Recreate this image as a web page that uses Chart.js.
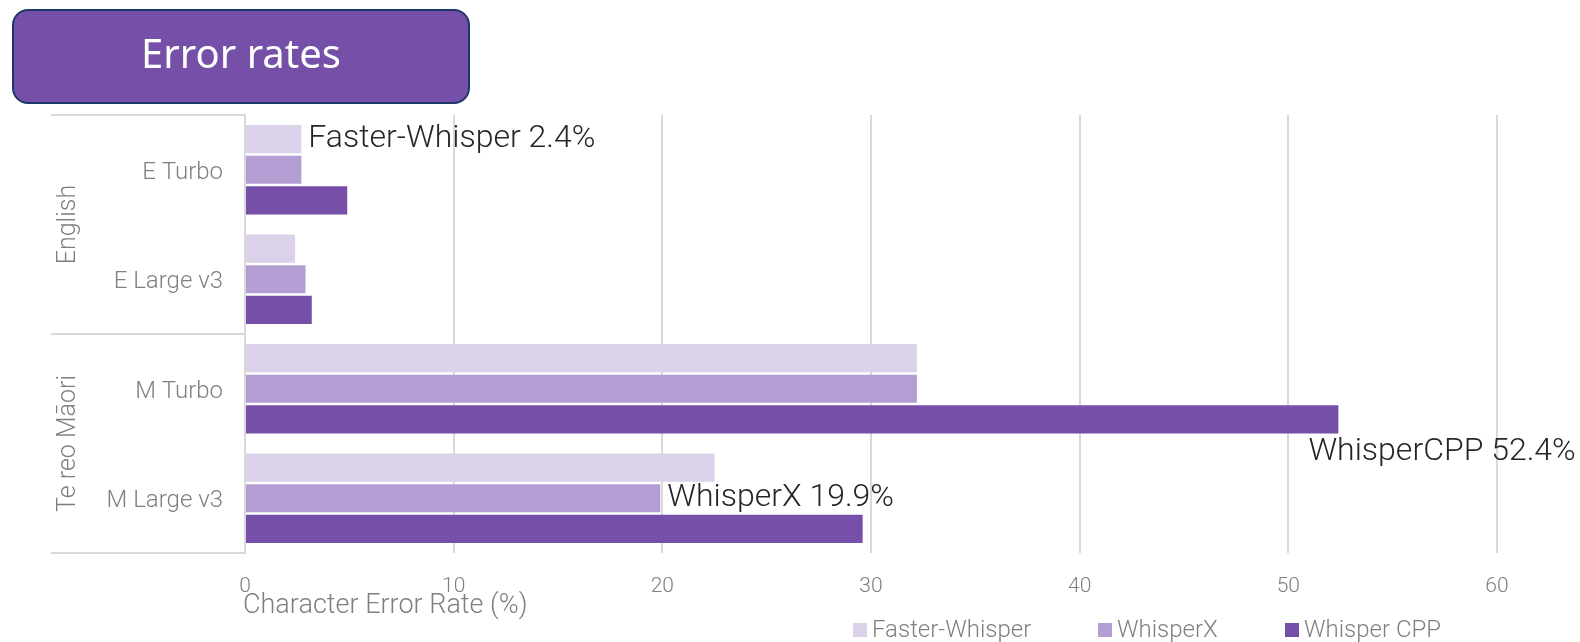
<!DOCTYPE html>
<html>
<head>
<meta charset="utf-8">
<script src="https://cdn.jsdelivr.net/npm/chart.js@4"></script>
<style>
  body { margin: 0; background: #fff; }
  #wrap { width: 1580px; height: 642px; }
</style>
</head>
<body>
<div id="wrap"><canvas id="errorChart" width="1580" height="642"></canvas></div>
<script>
// chart data
var categories = ['E Turbo', 'E Large v3', 'M Turbo', 'M Large v3'];
var groupNames = ['English', 'Te reo Māori'];
var groupSpans = [[0, 1], [2, 3]];
var seriesNames = ['Faster-Whisper', 'WhisperX', 'Whisper CPP'];
var fasterWhisper = [2.7, 2.4, 32.2, 22.5];
var whisperX = [2.7, 2.9, 32.2, 19.9];
var whisperCpp = [4.9, 3.2, 52.4, 29.6];
var xTicks = [0, 10, 20, 30, 40, 50, 60];
// callouts: [dataset index, category index, text]
var callouts = [
    [0, 0, 'Faster-Whisper 2.4%'],
    [2, 2, 'WhisperCPP 52.4%'],
    [1, 3, 'WhisperX 19.9%']
];

var colors = ['#dbd1e9', '#b39dd3', '#764fa8'];
var FONT = 'Roboto, "Noto Sans", sans-serif';

var extrasPlugin = {
    id: 'extras',
    beforeDraw: function(chart) {
        var ctx = chart.ctx;
        ctx.save();
        ctx.fillStyle = '#fff';
        ctx.fillRect(0, 0, chart.width, chart.height);
        ctx.restore();
    },
    afterDraw: function(chart) {
        var ctx = chart.ctx;
        var area = chart.chartArea;
        var yScale = chart.scales.y;
        ctx.save();

        // title box
        ctx.beginPath();
        ctx.roundRect(13, 10, 456, 93, 15);
        ctx.fillStyle = '#7650a8';
        ctx.fill();
        ctx.lineWidth = 2;
        ctx.strokeStyle = '#1d3769';
        ctx.stroke();
        ctx.fillStyle = '#fff';
        ctx.font = '40px "Noto Sans", sans-serif';
        ctx.textAlign = 'center';
        ctx.textBaseline = 'middle';
        ctx.fillText('Error rates', 241, 57);

        // group separators + group labels
        var bounds = [area.top];
        for (var i = 0; i < categories.length - 1; i++) {
            bounds.push((yScale.getPixelForValue(i) + yScale.getPixelForValue(i + 1)) / 2);
        }
        bounds.push(area.bottom);
        ctx.strokeStyle = '#d9d9d9';
        ctx.lineWidth = 2;
        var sepIdx = [0, 2, 4];
        sepIdx.forEach(function(k) {
            ctx.beginPath();
            ctx.moveTo(51, bounds[k]);
            ctx.lineTo(area.left, bounds[k]);
            ctx.stroke();
        });
        ctx.fillStyle = '#7f7f7f';
        ctx.font = '300 25px ' + FONT;
        groupSpans.forEach(function(span, g) {
            var yMid = (bounds[span[0]] + bounds[span[1] + 1]) / 2;
            ctx.save();
            ctx.translate(69, yMid);
            ctx.rotate(-Math.PI / 2);
            ctx.textAlign = 'center';
            ctx.textBaseline = 'middle';
            ctx.fillText(groupNames[g], 0, 0);
            ctx.restore();
        });

        // axis title
        ctx.font = '300 27px ' + FONT;
        ctx.textAlign = 'left';
        ctx.textBaseline = 'middle';
        ctx.fillText('Character Error Rate (%)', area.left - 2, 606);

        // legend
        ctx.font = '300 24px ' + FONT;
        var legendX = [853, 1098, 1285];
        seriesNames.forEach(function(name, s) {
            ctx.fillStyle = colors[s];
            ctx.fillRect(legendX[s], 623, 14, 14);
            ctx.fillStyle = '#7f7f7f';
            ctx.fillText(name, legendX[s] + 19, 631);
        });

        // callouts next to bars
        ctx.fillStyle = '#262626';
        ctx.font = '300 32px ' + FONT;
        callouts.forEach(function(c) {
            var bar = chart.getDatasetMeta(c[0]).data[c[1]];
            var tx = bar.x + 7;
            var ty = bar.y;
            if (c[0] === 2) {
                tx = bar.x - 30;
                ty = bar.y + 33;
            }
            ctx.fillText(c[2], tx, ty);
        });
        ctx.restore();
    }
};

var ctx = document.getElementById('errorChart').getContext('2d');
var chart = new Chart(ctx, {
    type: 'bar',
    data: {
        labels: categories,
        datasets: [
            { label: seriesNames[0], data: fasterWhisper, backgroundColor: colors[0] },
            { label: seriesNames[1], data: whisperX, backgroundColor: colors[1] },
            { label: seriesNames[2], data: whisperCpp, backgroundColor: colors[2] }
        ]
    },
    options: {
        indexAxis: 'y',
        responsive: false,
        animation: false,
        layout: { padding: { top: 115, right: 83, left: 0, bottom: 0 } },
        datasets: {
            bar: { barPercentage: 0.92, categoryPercentage: 0.84 }
        },
        plugins: {
            legend: { display: false },
            tooltip: { enabled: false }
        },
        scales: {
            x: {
                min: 0,
                max: 60,
                afterBuildTicks: function(scale) {
                    scale.ticks = xTicks.map(function(v) { return { value: v }; });
                },
                afterFit: function(scale) { scale.height = 89; },
                grid: { color: '#d9d9d9', lineWidth: 2, drawTicks: false },
                border: { display: false },
                ticks: {
                    padding: 21,
                    color: '#7f7f7f',
                    font: { family: FONT, size: 21, weight: 300 }
                }
            },
            y: {
                afterFit: function(scale) { scale.width = 245; },
                grid: { display: false, drawTicks: false },
                border: { display: true, color: '#d9d9d9', width: 2 },
                ticks: {
                    padding: 22,
                    labelOffset: 3,
                    color: '#7f7f7f',
                    font: { family: FONT, size: 24, weight: 300 }
                }
            }
        }
    },
    plugins: [extrasPlugin]
});
</script>
</body>
</html>
